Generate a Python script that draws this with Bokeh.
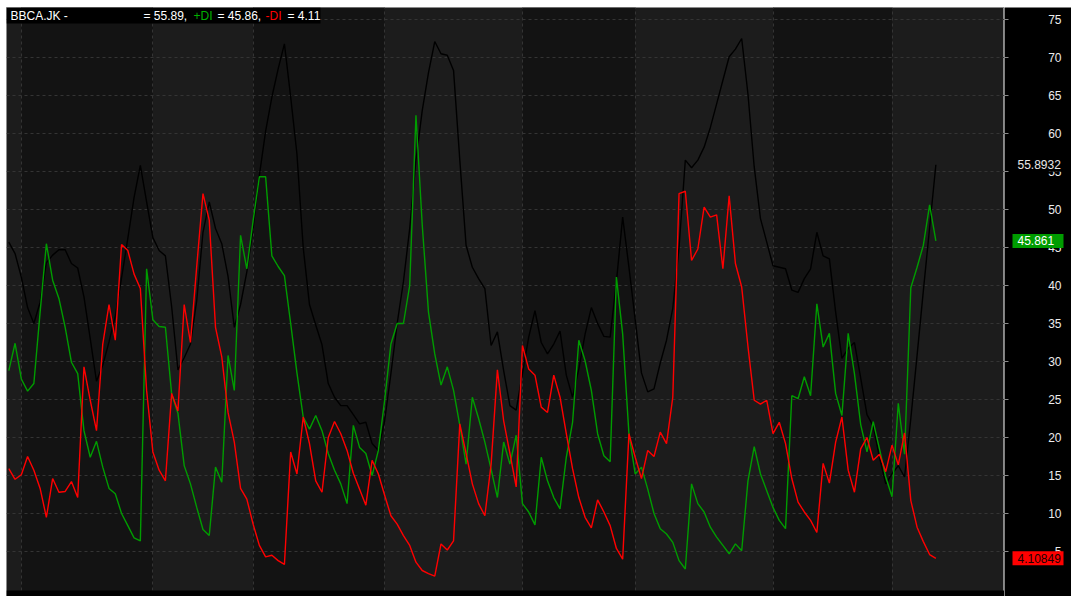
from bokeh.plotting import figure
from bokeh.layouts import row
from bokeh.models import (Range1d, FixedTicker, Grid, BoxAnnotation, Label)
from bokeh.core.properties import value
from bokeh.embed import file_html
from bokeh.resources import INLINE

# ---------------- data (one value per trading day) ----------------
adx = [45.7, 44.2, 41.1, 37.1, 35.0, 37.8, 43.0, 44.0, 44.7, 44.7,
       42.9, 42.3, 38.5, 33.0, 27.4, 29.5, 32.6, 36.0, 41.0, 46.2,
       51.6, 55.8, 51.0, 46.3, 44.6, 43.9, 37.2, 28.9, 30.5, 32.3,
       38.0, 47.0, 51.0, 47.5, 45.5, 41.2, 34.5, 37.5, 41.8, 47.5,
       54.5, 60.3, 64.8, 68.5, 71.8, 64.8, 57.3, 45.0, 37.5, 34.8,
       32.2, 27.1, 25.3, 24.2, 24.2, 23.0, 21.8, 22.0, 19.2, 18.3,
       22.2, 28.4, 35.0, 40.5, 47.5, 56.5, 63.0, 68.0, 72.1, 70.5,
       70.3, 68.3, 56.5, 45.3, 42.4, 40.9, 39.6, 32.1, 33.9, 28.8,
       24.2, 23.6, 28.4, 33.2, 36.7, 32.5, 31.0, 32.3, 34.0, 28.2,
       25.3, 29.0, 33.6, 37.1, 35.0, 33.3, 33.2, 40.5, 49.0, 42.4,
       35.5, 28.5, 26.0, 26.4, 29.8, 32.8, 37.0, 45.0, 56.5, 55.5,
       56.5, 58.2, 60.8, 63.9, 67.0, 70.1, 71.1, 72.5, 65.2, 55.6,
       48.8, 45.7, 42.6, 42.4, 42.2, 39.4, 39.1, 40.9, 42.2, 47.0,
       43.9, 43.5, 36.5, 30.4, 31.7, 32.5, 27.8, 23.0, 21.5, 17.4,
       13.9, 15.2, 16.3, 14.8, 22.5, 30.8, 39.3, 47.6, 55.8932]

plus_di = [28.8, 32.4, 27.7, 26.1, 27.1, 36.5, 45.5, 40.7, 38.3, 34.5,
           29.9, 28.4, 20.9, 17.4, 19.5, 16.1, 13.3, 12.6, 10.0, 8.4,
           6.8, 6.4, 42.2, 35.5, 34.6, 34.5, 25.7, 23.2, 16.3, 13.9,
           10.8, 7.9, 7.1, 16.1, 14.1, 30.8, 26.2, 46.6, 42.2, 48.5,
           54.3, 54.3, 43.9, 42.5, 41.3, 35.0, 28.5, 22.7, 21.1, 22.9,
           20.9, 17.9, 15.7, 13.9, 11.3, 21.6, 18.7, 17.9, 15.0, 18.3,
           24.9, 32.3, 35.0, 35.0, 40.0, 62.4, 48.0, 36.5, 31.0, 26.9,
           29.3, 26.2, 21.6, 16.5, 25.3, 22.5, 19.4, 15.8, 12.1, 19.4,
           16.5, 20.3, 11.3, 10.2, 8.5, 17.4, 14.3, 12.1, 10.6, 17.4,
           22.0, 32.8, 30.1, 26.2, 20.5, 17.6, 16.8, 41.1, 33.6, 20.5,
           15.2, 16.1, 13.2, 10.0, 8.0, 7.3, 6.2, 3.8, 2.7, 13.9,
           11.3, 10.2, 8.2, 6.9, 5.8, 4.7, 6.0, 5.1, 14.3, 18.8,
           15.2, 13.0, 10.8, 9.1, 8.0, 25.5, 25.1, 28.0, 25.5, 37.6,
           31.9, 33.7, 25.8, 22.9, 33.7, 28.4, 21.7, 18.1, 22.1, 18.5,
           14.8, 12.2, 24.5, 17.8, 39.7, 42.4, 45.3, 50.6, 45.861]

minus_di = [15.9, 14.5, 15.1, 17.5, 15.7, 13.3, 9.5, 14.6, 12.8, 12.9,
            14.2, 12.1, 29.3, 24.9, 20.9, 32.3, 37.5, 32.8, 45.4, 44.6,
            41.5, 39.6, 26.2, 18.1, 15.7, 14.3, 25.8, 23.5, 37.5, 32.5,
            42.5, 52.1, 48.6, 34.5, 30.6, 23.3, 19.4, 13.3, 11.9, 8.6,
            5.8, 4.3, 4.5, 3.8, 3.3, 18.1, 15.2, 22.7, 19.2, 14.3,
            12.8, 20.0, 22.1, 20.5, 18.3, 15.3, 13.2, 11.1, 17.0, 15.2,
            12.4, 9.7, 8.6, 7.1, 5.8, 3.6, 2.5, 2.1, 1.75, 6.0,
            5.2, 6.4, 21.8, 17.9, 13.9, 11.3, 9.7, 16.5, 28.9, 22.2,
            17.9, 13.5, 32.1, 29.0, 28.2, 24.0, 23.3, 28.2, 25.3, 20.5,
            15.9, 12.1, 9.5, 8.1, 11.8, 10.2, 8.4, 5.4, 4.0, 20.5,
            17.4, 14.6, 18.3, 17.5, 20.7, 19.2, 25.3, 52.1, 52.4, 43.3,
            44.8, 50.3, 49.0, 49.3, 42.2, 51.8, 42.9, 39.8, 32.0, 24.9,
            24.4, 24.9, 20.5, 22.0, 19.2, 14.6, 11.5, 10.2, 9.1, 7.5,
            16.6, 14.0, 19.4, 22.7, 15.7, 12.8, 18.5, 20.0, 17.0, 17.8,
            15.5, 19.0, 16.4, 20.6, 11.7, 8.2, 6.3, 4.6, 4.10849]

# bar index where each new month starts
month_starts = [2, 23, 39, 60, 82, 100, 122, 141]

y_ticks = [5, 10, 15, 20, 25, 30, 35, 40, 45, 50, 55, 60, 65, 70, 75]
y_tick_labels = [str(t) for t in y_ticks]

ticker_name = "BBCA.JK"

# ---------------- layout constants ----------------
H = 596             # total height
PW = 1004           # main chart width (frame 6..1004)
AW = 67             # price-axis panel width (1004..1071)
TOP = 7
LEFT = 6
BOTTOM_FRAME = 589  # screen y of value 0 / end of chart area
XS = 6.264          # px per bar
YS = 7.6            # px per unit
X_START = (LEFT - 8.3) / XS
X_END = X_START + (PW - LEFT) / XS
Y_TOP = (BOTTOM_FRAME - TOP) / YS
Y_BOT = Y_TOP - (H - TOP) / YS


def dx(sx):
    return X_START + (sx - LEFT) / XS


def dy(sy):
    return Y_TOP - (sy - TOP) / YS


FONT = "Liberation Sans"
GREEN = "#009c00"
RED = "#ff0000"
GRID = "#343434"
EDGE = "#8a8a8a"

yr = Range1d(Y_BOT, Y_TOP)

p = figure(width=PW, height=H, output_backend="svg", toolbar_location=None,
           x_range=Range1d(X_START, X_END), y_range=yr,
           x_axis_location=None, y_axis_location=None,
           min_border_left=LEFT, min_border_top=TOP, min_border_bottom=0,
           min_border_right=0)
p.background_fill_color = "#1c1c1c"
p.border_fill_color = "white"
p.outline_line_color = EDGE
p.outline_line_width = 1

# replace default grids
p.center = [r for r in p.center if not isinstance(r, Grid)]
p.add_layout(Grid(dimension=0, ticker=FixedTicker(ticks=month_starts),
                  grid_line_color=GRID, grid_line_dash="3 3", grid_line_width=1))
p.add_layout(Grid(dimension=1, ticker=FixedTicker(ticks=y_ticks),
                  grid_line_color=GRID, grid_line_dash="3 3", grid_line_width=1))

# month bands (alternating shades)
n = len(adx)
bounds = month_starts + [n + 20]
for k in range(0, len(bounds) - 1, 2):
    p.add_layout(BoxAnnotation(left=bounds[k], right=bounds[k + 1],
                               fill_color="#131313", fill_alpha=1.0,
                               line_color=None, level="image"))

xs = list(range(n))
p.line(xs, adx, line_color="black", line_width=1.4)
p.line(xs, plus_di, line_color=GREEN, line_width=1.4)
p.line(xs, minus_di, line_color=RED, line_width=1.4)

# black strip under the chart (date-axis area)
p.add_layout(BoxAnnotation(bottom=Y_BOT, top=dy(BOTTOM_FRAME + 1),
                           fill_color="black", fill_alpha=1.0, line_color=None,
                           level="overlay"))

# title bar
p.add_layout(BoxAnnotation(left=X_START, right=dx(320), top=Y_TOP, bottom=dy(23),
                           fill_color="black", fill_alpha=1.0, line_color=None))
title_parts = [
    (ticker_name + " -", 10, "white"),
    ("= %.2f," % adx[-1], 143, "white"),
    ("+DI", 193, "#00b000"),
    ("= %.2f," % plus_di[-1], 217, "white"),
    ("-DI", 265, RED),
    ("= %.2f" % minus_di[-1], 287, "white"),
]
for txt, sx, col in title_parts:
    p.add_layout(Label(x=dx(sx), y=dy(15.5), text=txt, text_color=col,
                       text_font=FONT, text_font_size="12px",
                       text_align="left", text_baseline="middle"))

# ---------------- price axis panel ----------------
q = figure(width=AW, height=H, output_backend="svg", toolbar_location=None,
           x_range=Range1d(PW, PW + AW), y_range=yr,
           x_axis_location=None, y_axis_location=None,
           min_border_left=0, min_border_top=TOP, min_border_bottom=0,
           min_border_right=0)
q.center = [r for r in q.center if not isinstance(r, Grid)]
q.background_fill_color = "black"
q.border_fill_color = "white"
q.outline_line_color = None

q.segment(x0=[PW] * len(y_ticks), x1=[PW + 4] * len(y_ticks),
          y0=y_ticks, y1=y_ticks, line_color=EDGE, line_width=1)
q.text(x=[PW + 57] * len(y_ticks), y=y_ticks, text=y_tick_labels,
       text_align="right", text_baseline="middle",
       text_font=value(FONT), text_font_size=value("12px"),
       text_color="#ececec")

# value badges
badges = [
    ("%.4f" % adx[-1], adx[-1], "black", "#e8e8e8"),
    ("%.3f" % plus_di[-1], plus_di[-1], GREEN, "white"),
    ("%.5f" % minus_di[-1], minus_di[-1], RED, "#200000"),
]
half = 7.0 / YS
for txt, val, bg, fg in badges:
    q.quad(left=[PW + 8], right=[PW + 59], top=[val + half], bottom=[val - half],
           fill_color=bg, line_color=None)
    q.add_layout(Label(x=PW + 13, y=val, text=txt, text_color=fg,
                       text_font=FONT, text_font_size="12px",
                       text_align="left", text_baseline="middle"))

layout = row(p, q, spacing=0)
open("out.html", "w").write(file_html(layout, INLINE))
